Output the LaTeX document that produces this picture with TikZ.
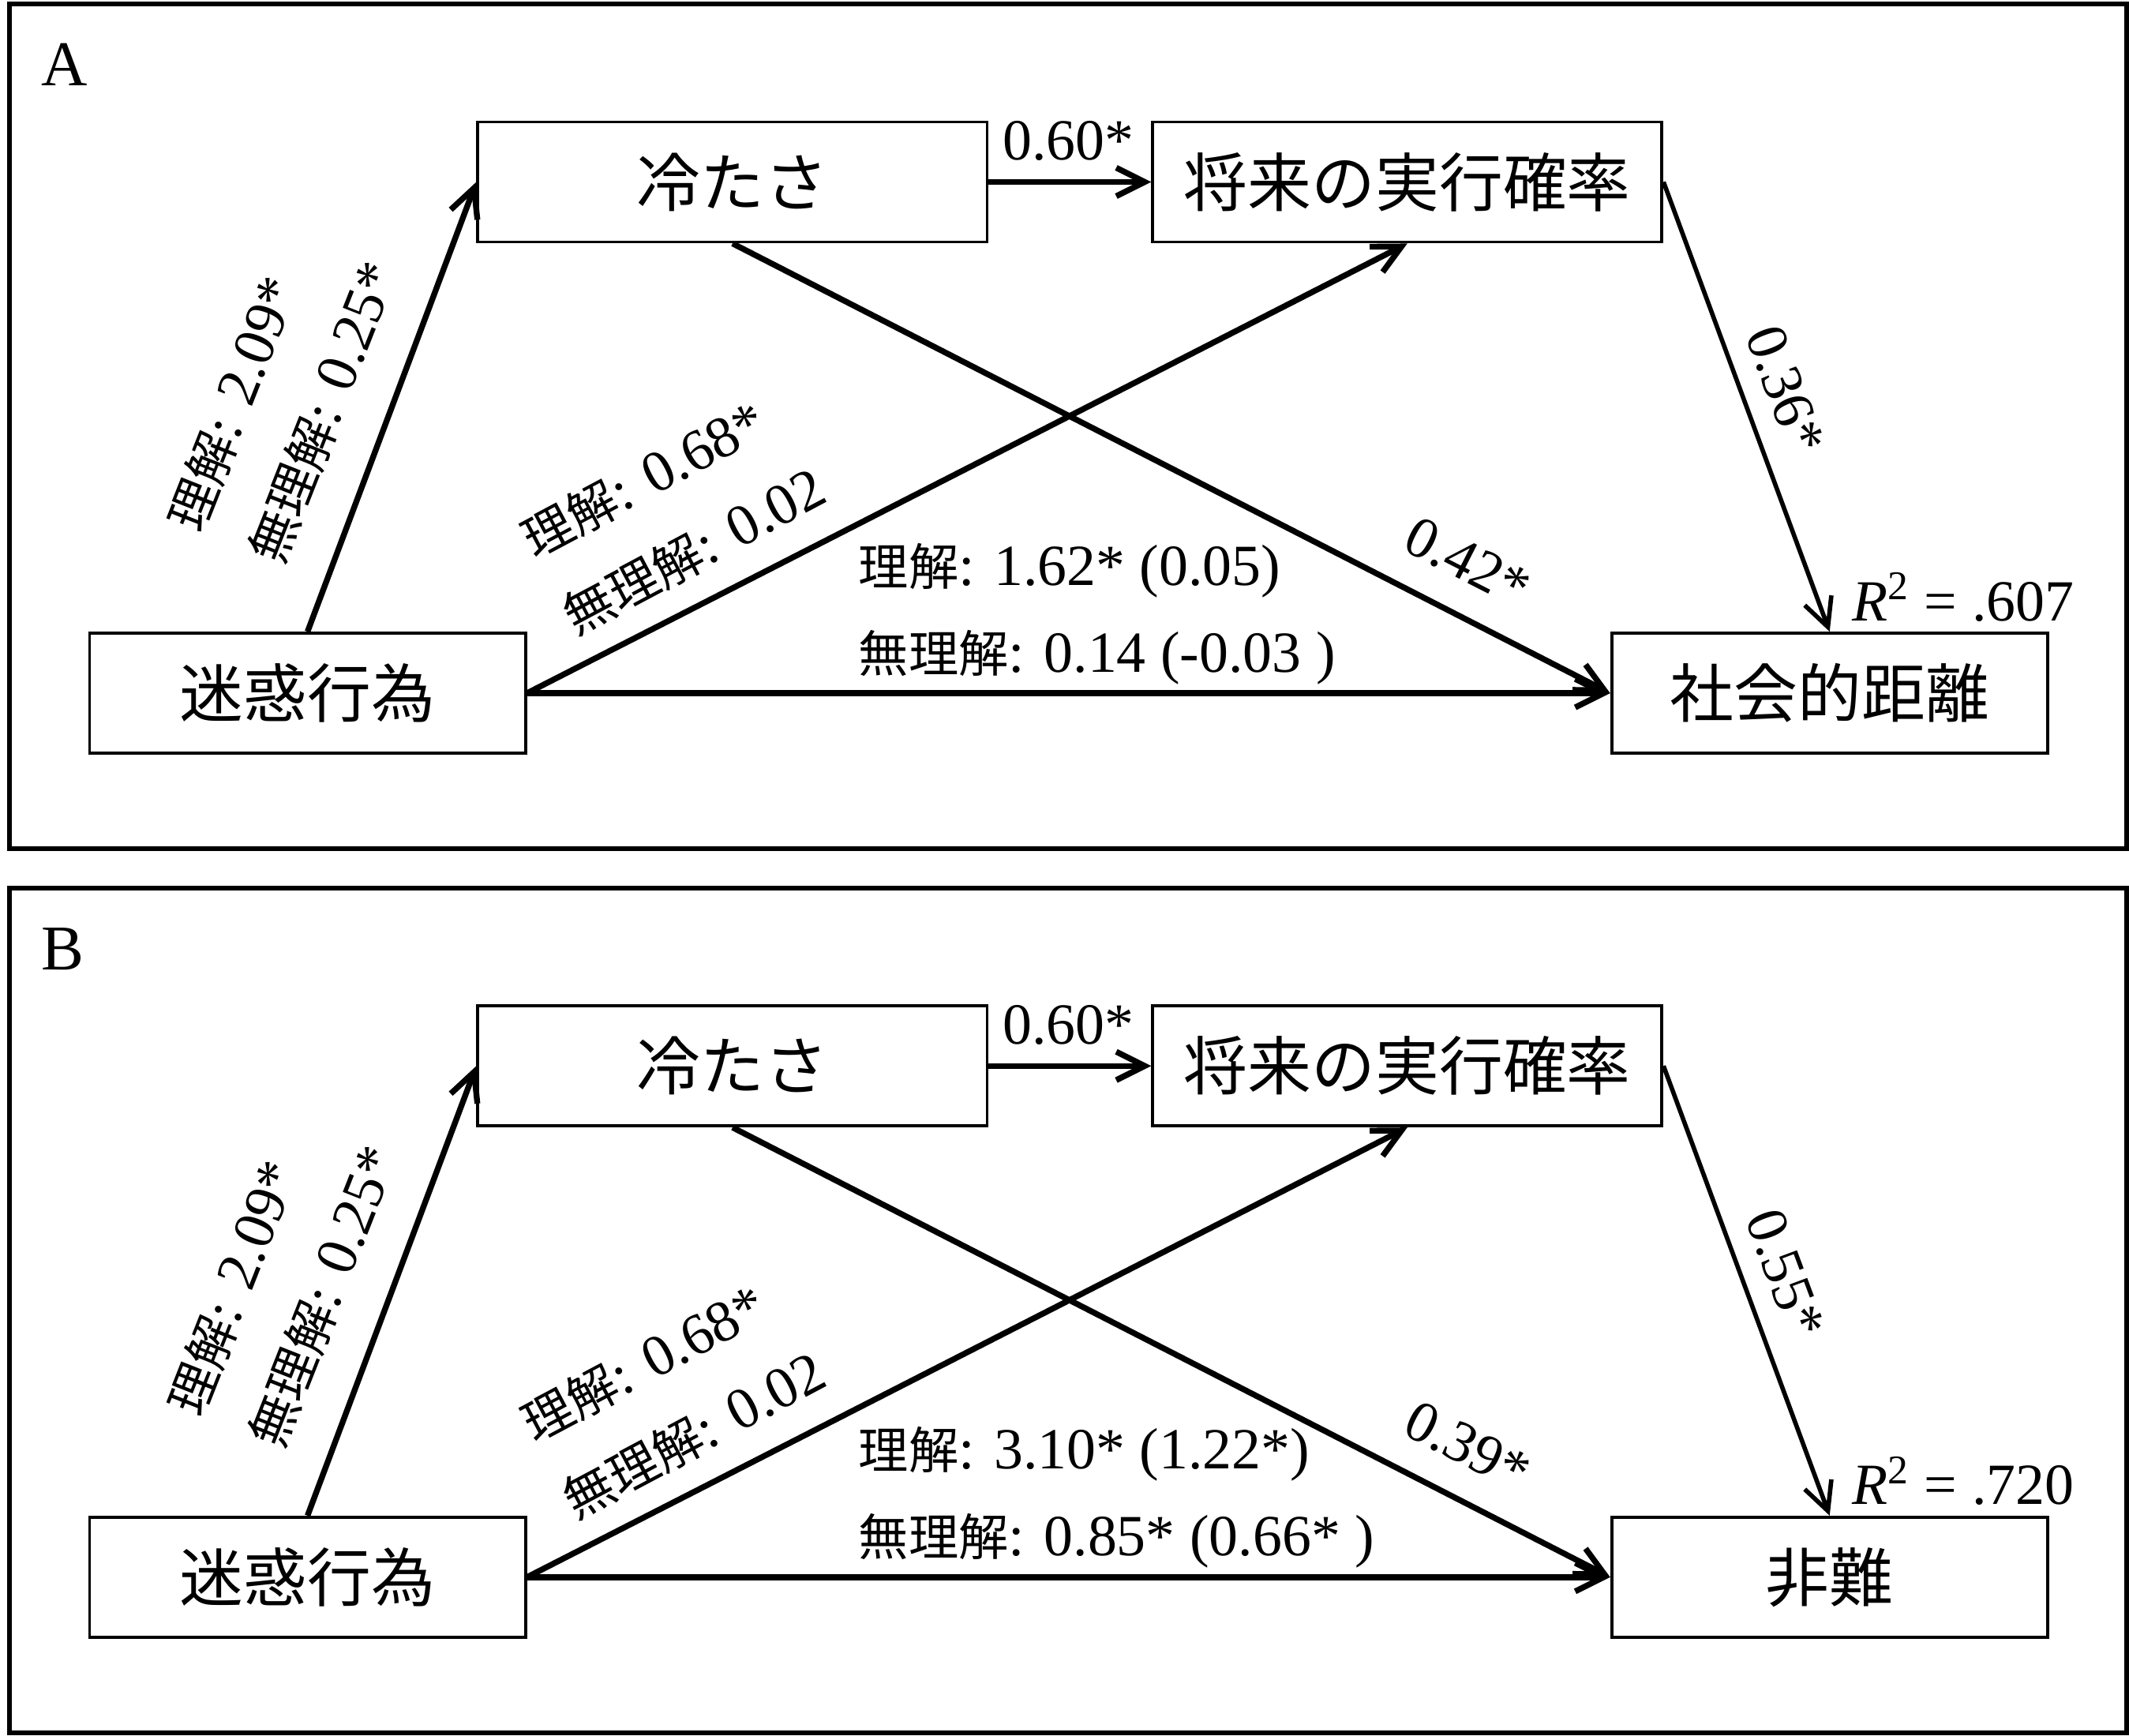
\documentclass[tikz,border=0pt]{standalone}
\usepackage{fontspec}
\setmainfont{Liberation Serif}
\newfontfamily\cjkfont{Noto Sans CJK JP}
\usetikzlibrary{arrows.meta}
\newcommand\jbox[1]{{\cjkfont\fontsize{23}{28}\selectfont #1}}
\newcommand\jl[1]{{\cjkfont\fontsize{18}{31.3}\selectfont #1}}
\tikzset{
  box/.style={draw,line width=1.1pt,minimum height=1.52cm,inner sep=0pt},
  arr/.style={line width=2.1pt,-{Straight Barb[length=0.36cm,width=0.36cm]}},
  lab/.style={inner sep=0pt,font=\fontsize{21}{31.3}\selectfont,align=left},
  panelframe/.style={line width=1.7pt}
}
\newcommand\drawpanel[9]{%
\begin{scope}[shift={(0,#2)}]
  \draw[panelframe] (7,3) rectangle (1566,625);
  \node[inner sep=0pt,font=\fontsize{23}{28}\selectfont,anchor=base west] (#1-letter) at (30,63) {#3};
  \node[box,minimum width=6.45cm] (#1-cold) at (539.5,134) {\jbox{冷たさ}};
  \node[box,minimum width=6.45cm] (#1-prob) at (1036.5,134) {\jbox{将来の実行確率}};
  \node[box,minimum width=5.52cm] (#1-act) at (226.5,510.5) {\jbox{迷惑行為}};
  \node[box,minimum width=5.52cm] (#1-out) at (1347.5,510.5) {\jbox{#4}};
  \draw[arr] (#1-act.north) -- (#1-cold.west);
  \draw[arr] (#1-cold.east) -- (#1-prob.west);
  \draw[arr,line width=1.6pt] (#1-prob.east) -- (#1-out.north);
  \draw[arr] (#1-cold.south) -- (#1-out.west);
  \draw[arr] (#1-act.east) -- (#1-prob.south);
  \draw[arr] (#1-act.east) -- (#1-out.west);
  \node[lab,rotate=68.5] (#1-l1) at (208,292) {\jl{理解}: 2.09*\\\jl{無理解}: 0.25*};
  \node[lab,rotate=28] (#1-l2) at (496,378) {\jl{理解}: 0.68*\\\jl{無理解}: 0.02};
  \node[lab,anchor=west] (#1-l3) at (632,452) {\jl{理解}: #8\\\jl{無理解}: #9};
  \node[lab] (#1-l4) at (787,104) {0.60*};
  \node[lab,rotate=-27] (#1-l5) at (1081,414) {#6};
  \node[lab,rotate=-69.6] (#1-l6) at (1315,287) {#5};
  \node[lab,anchor=base west] (#1-r2) at (1364,457) {\textit{R}\textsuperscript{2} = #7};
\end{scope}}
\begin{document}
\begin{tikzpicture}[x=0.0172cm,y=-0.0172cm]
  \useasboundingbox (0,0) rectangle (1568,1278);
  \fill[white] (0,0) rectangle (1568,1278);
  \drawpanel{A}{0}{A}{社会的距離}{0.36*}{0.42*}{.607}{1.62* (0.05)}{0.14 (-0.03 )}
  \drawpanel{B}{651}{B}{非難}{0.55*}{0.39*}{.720}{3.10* (1.22*)}{0.85* (0.66* )}
\end{tikzpicture}
\end{document}
